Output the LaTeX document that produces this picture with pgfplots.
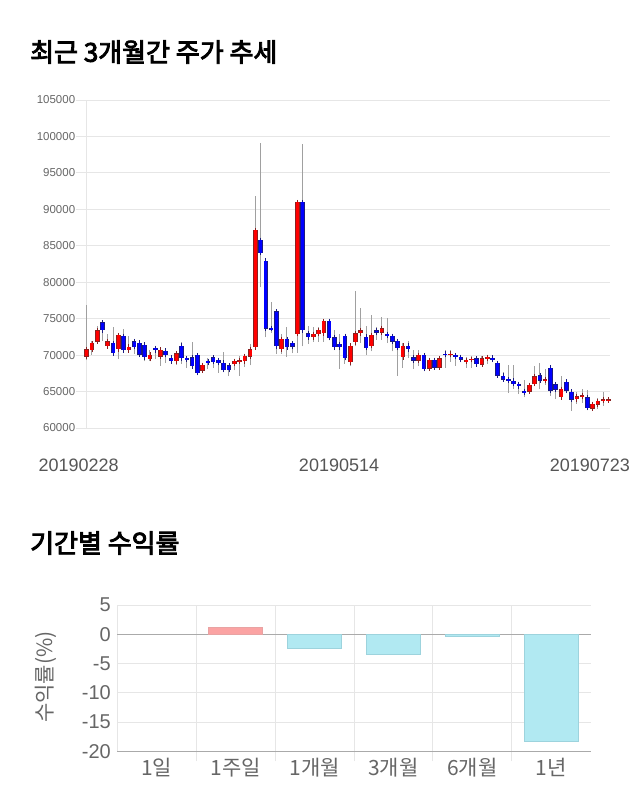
\documentclass[border=0pt]{standalone}
\usepackage{fontspec}
\setmainfont{Liberation Sans}
\newfontfamily\kr{Noto Sans CJK KR}
\newfontfamily\krb[FakeBold=3.5]{Noto Sans CJK KR}
\usepackage{pgfplots}
\pgfplotsset{compat=1.18}
\usepackage{pgfplotstable}
\definecolor{gridc}{HTML}{E6E6E6}
\definecolor{wickc}{HTML}{A0A0A0}
\definecolor{upfill}{HTML}{FF0000}
\definecolor{upline}{HTML}{8A2020}
\definecolor{dnfill}{HTML}{0000FF}
\definecolor{dnline}{HTML}{1A1A80}
\definecolor{txtg}{HTML}{666666}
\definecolor{txtd}{HTML}{555555}
\definecolor{barred}{HTML}{FBA3A3}
\definecolor{barredl}{HTML}{E8A3A3}
\definecolor{barcyan}{HTML}{B1E9F2}
\definecolor{barcyanl}{HTML}{9DD3DD}
\definecolor{zeroc}{HTML}{AAAAAA}

% rising candles: index, open, high, low, close
\pgfplotstableread{
i o h l c
0 69800 76900 69300 70800
1 70700 72000 70050 71650
2 71850 74000 71650 73400
4 71200 72900 70950 71900
6 70800 73000 69450 72750
8 70650 72650 70450 71150
12 69450 70750 69250 70050
14 69800 70800 68550 70750
17 69150 70350 68700 70250
22 67850 68650 67550 68650
28 68800 69350 67900 69200
29 69150 69900 67200 69250
30 69150 70050 68350 69900
31 69800 71550 68600 70800
32 71050 91800 70800 87150
37 70800 72900 70200 72200
40 72900 91000 70350 91000
43 72450 73850 71800 72900
44 72900 73850 71850 73450
45 73000 74950 71850 74700
50 69000 71300 68450 71300
51 71750 78800 71200 73000
52 73000 76450 71650 73400
54 71250 75500 70500 72750
56 73100 75250 72100 73700
60 69700 71650 68200 71300
63 69250 70650 68450 70000
65 68150 69650 68100 69350
67 68300 69650 68150 69550
69 70050 70700 69100 70150
72 69100 69800 68300 69350
73 69350 69900 68300 69450
75 68700 69900 68650 69550
76 69600 69900 68750 69700
84 65000 65900 64800 65900
85 66050 68450 65900 67100
87 66550 68150 65900 66650
90 64200 67100 64050 65350
93 63950 64900 63300 64350
94 64250 65350 63400 64500
96 62650 63500 62600 63300
97 63200 64100 62600 63700
98 63800 64900 63050 63900
99 63800 64000 63700 63900
}\up

% falling candles: index, open, high, low, close
\pgfplotstableread{
i o h l c
3 74500 74850 72000 73400
5 71650 73850 70200 70250
7 72650 73550 70450 70650
9 71900 72000 70200 71100
10 71700 71800 69800 70050
11 71450 71550 69150 69700
13 71000 71050 69450 70650
15 70600 70650 68900 70000
16 69650 69900 68800 69150
18 71300 71850 68800 69550
19 69550 69550 68200 69450
20 69700 71850 68100 68450
21 70000 70050 67550 67550
23 69200 69550 68100 68900
24 69700 69900 68200 69050
25 69350 69400 67550 68900
26 68950 70450 67950 67950
27 68600 68700 67100 67950
33 85800 99050 79300 84000
34 82950 82950 72450 73650
35 73700 77300 73000 73600
36 76000 76000 70200 71200
38 72200 73850 69800 71050
39 71650 72000 70250 71150
41 91000 98950 71200 73400
42 73000 74000 71550 72450
46 74700 74700 72350 72350
47 72450 73450 70650 71050
48 71550 72900 68100 71050
49 72650 72650 68800 69600
53 72550 74000 70050 70950
55 73400 73850 72100 73100
57 72900 75050 71650 72700
58 72650 72900 70500 71850
59 71950 71950 67150 70950
61 71300 72000 69600 70800
62 69700 70750 68100 69250
64 70000 70000 68100 68100
66 69350 69550 68100 68300
68 70150 70750 68300 70050
70 70000 70150 68550 69750
71 69750 70000 69000 69350
74 69550 69900 68650 68750
77 69650 69750 69000 69400
78 68900 68900 67150 67200
79 67200 67650 66600 66650
80 66700 68650 64800 66550
81 66500 68650 65350 66050
82 66050 66050 64650 65700
83 65050 66600 64200 64950
86 67250 68900 65350 66500
88 68300 68300 64450 65100
89 66000 66000 63950 65250
91 66350 66350 64900 65100
92 65000 65000 62350 63900
95 64200 65250 62700 62750
}\down

\begin{document}
\begin{tikzpicture}
\useasboundingbox (0pt,0pt) rectangle (640pt,-810pt);

\node[anchor=west, inner sep=0pt, font=\krb\fontsize{26}{26}\selectfont] at (30pt,-52pt) {최근 3개월간 주가 추세};
\node[anchor=west, inner sep=0pt, font=\krb\fontsize{26}{26}\selectfont] at (30pt,-543pt) {기간별 수익률};

% ---------- candlestick chart ----------
\begin{axis}[
  at={(86.7pt,-428pt)}, anchor=south west,
  scale only axis, width=523.3pt, height=328pt,
  xmin=0, xmax=99.3, ymin=60000, ymax=105000,
  clip=false,
  scaled y ticks=false, scaled x ticks=false,
  axis line style={draw=none},
  ytick={60000,65000,...,105000},
  yticklabels={60000,65000,70000,75000,80000,85000,90000,95000,100000,105000},
  xtick={0,49.4,97},
  xticklabels={20190228,20190514,20190723},
  ymajorgrids,
  major grid style={draw=gridc, line width=1pt},
  extra x ticks={0}, extra x tick labels={},
  extra x tick style={grid=major, major tick length=0pt},
  ytick style={draw=gridc, line width=1pt},
  xtick style={draw=none},
  tick align=outside, tick pos=left,
  major tick length=11pt,
  yticklabel style={font=\fontsize{11.5}{12}\selectfont, text=txtg, xshift=3pt},
  xticklabel style={font=\fontsize{18}{18}\selectfont, text=txtd, yshift=-16pt, xshift=-8pt},
]
% wicks
\addplot[draw=none, forget plot, error bars/.cd, y dir=plus, y explicit, error mark=none,
  error bar style={draw=wickc, line width=1pt, solid}]
  table[x=i, y=l, y error plus expr=\thisrow{h}-\thisrow{l}] {\up};
\addplot[draw=none, forget plot, error bars/.cd, y dir=plus, y explicit, error mark=none,
  error bar style={draw=wickc, line width=1pt, solid}]
  table[x=i, y=l, y error plus expr=\thisrow{h}-\thisrow{l}] {\down};
% bodies: border
\addplot[draw=none, forget plot, error bars/.cd, y dir=both, y explicit, error mark=-,
  error mark options={draw=upline, line width=0.8pt, mark size=2.3pt, solid},
  error bar style={draw=upline, line width=4.6pt, solid}]
  table[x=i, y expr={(\thisrow{o}+\thisrow{c})/2}, y error expr={max(abs(\thisrow{c}-\thisrow{o})/2,90)}] {\up};
\addplot[draw=none, forget plot, error bars/.cd, y dir=both, y explicit, error mark=-,
  error mark options={draw=dnline, line width=0.8pt, mark size=2.3pt, solid},
  error bar style={draw=dnline, line width=4.6pt, solid}]
  table[x=i, y expr={(\thisrow{o}+\thisrow{c})/2}, y error expr={max(abs(\thisrow{c}-\thisrow{o})/2,90)}] {\down};
% bodies: fill
\addplot[draw=none, forget plot, error bars/.cd, y dir=both, y explicit, error mark=none,
  error bar style={draw=upfill, line width=3pt, solid}]
  table[x=i, y expr={(\thisrow{o}+\thisrow{c})/2}, y error expr={max(abs(\thisrow{c}-\thisrow{o})/2,90)-50}] {\up};
\addplot[draw=none, forget plot, error bars/.cd, y dir=both, y explicit, error mark=none,
  error bar style={draw=dnfill, line width=3pt, solid}]
  table[x=i, y expr={(\thisrow{o}+\thisrow{c})/2}, y error expr={max(abs(\thisrow{c}-\thisrow{o})/2,90)-50}] {\down};
\end{axis}

% ---------- returns bar chart ----------
\begin{axis}[
  at={(117.3pt,-751.3pt)}, anchor=south west,
  scale only axis, width=473.4pt, height=146.3pt,
  xmin=-0.5, xmax=5.5, ymin=-20, ymax=5,
  axis line style={draw=none},
  ytick={-20,-15,...,5},
  yticklabels={-20,-15,-10,-5,0,5},
  xtick={0,...,5},
  xticklabels={1일,1주일,1개월,3개월,6개월,1년},
  minor xtick={0.5,1.5,2.5,3.5,4.5},
  ymajorgrids, xminorgrids,
  major grid style={draw=gridc, line width=1pt},
  minor grid style={draw=gridc, line width=1pt},
  extra x ticks={-0.5}, extra x tick labels={},
  extra x tick style={grid=major, major tick length=0pt},
  extra y ticks={0,-20}, extra y tick labels={},
  extra y tick style={grid=major, major tick length=0pt,
     major grid style={draw=zeroc, line width=1pt}},
  major tick length=0pt,
  minor tick length=10pt,
  tick align=outside, tick pos=left,
  minor tick style={draw=gridc, line width=1pt},
  yticklabel style={font=\fontsize{20}{20}\selectfont, text=txtg, xshift=-3pt},
  xticklabel style={font=\kr\fontsize{21}{21}\selectfont, text=txtg, yshift=-3pt},
  ylabel={수익률(\%)},
  every axis y label/.style={at={(axis description cs:-0.1506,0.508)}, rotate=90, anchor=center,
     font=\kr\fontsize{21}{21}\selectfont, text=txtg},
  ybar, bar width=54pt, bar shift=0pt,
]
\addplot[fill=barred, draw=barredl, line width=1pt] coordinates {(1,1.1)};
\addplot[fill=barcyan, draw=barcyanl, line width=1pt] coordinates {(2,-2.45) (3,-3.4) (4,-0.45) (5,-18.4)};
\end{axis}
\end{tikzpicture}
\end{document}
